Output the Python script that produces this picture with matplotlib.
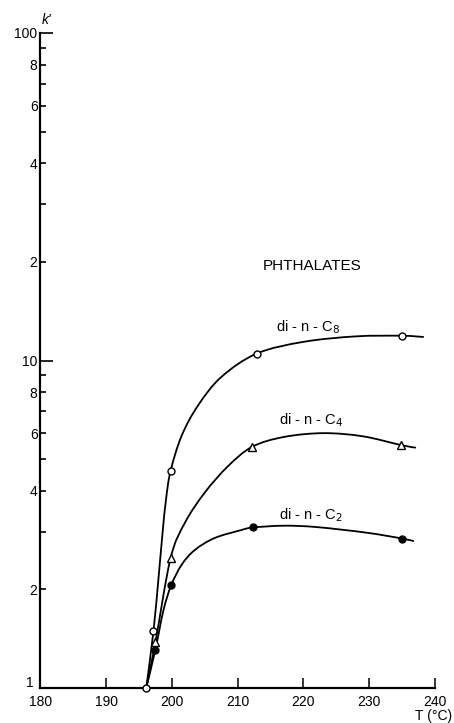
import numpy as np
import matplotlib.pyplot as plt
from matplotlib.path import Path
from matplotlib.patches import PathPatch
from matplotlib.ticker import FixedLocator, FuncFormatter

plt.rcParams['font.family'] = ['Liberation Sans', 'DejaVu Sans']

# Measured points: column temperature (°C) vs capacity factor k'
c8_T = [196.1, 197.2, 199.8, 212.9, 235.0]
c8_k = [1.0, 1.49, 4.6, 10.5, 11.9]
c4_T = [197.5, 199.8, 212.2, 234.8]
c4_k = [1.38, 2.49, 5.45, 5.52]
c2_T = [197.5, 199.9, 212.3, 235.0]
c2_k = [1.31, 2.06, 3.11, 2.86]

# Hand-drawn trend curves through each series
c8_curve_T = [196.1, 197.2, 198.0, 198.6, 199.1, 199.8, 201.5, 204.0,
              207.5, 212.9, 220.0, 228.0, 235.0, 238.2]
c8_curve_k = [1.0, 1.49, 2.2, 3.0, 3.75, 4.6, 5.9, 7.3,
              8.9, 10.5, 11.4, 11.85, 11.9, 11.8]
c4_curve_T = [196.1, 197.5, 199.8, 202.0, 205.0, 208.5, 212.2,
              217.0, 223.0, 229.0, 234.8, 237.0]
c4_curve_k = [1.0, 1.38, 2.49, 3.2, 3.95, 4.75, 5.45,
              5.84, 6.0, 5.87, 5.52, 5.42]
c2_curve_T = [196.1, 197.5, 198.7, 199.9, 201.5, 203.5, 206.5, 210.4, 212.3,
              217.0, 222.0, 229.6, 235.0, 236.7]
c2_curve_k = [1.0, 1.31, 1.72, 2.06, 2.38, 2.64, 2.87, 3.03, 3.09,
              3.13, 3.10, 2.98, 2.86, 2.81]


def smooth_path(T, k):
    # cubic Bezier segments through the traced points (Catmull-Rom tangents),
    # built in (T, log k) so the strokes stay smooth on the log axis
    x = np.asarray(T, float)
    y = np.log10(k)
    n = len(x)
    verts = [(x[0], y[0])]
    codes = [Path.MOVETO]
    for i in range(n - 1):
        p0 = (x[max(i - 1, 0)], y[max(i - 1, 0)])
        p1 = (x[i], y[i])
        p2 = (x[i + 1], y[i + 1])
        p3 = (x[min(i + 2, n - 1)], y[min(i + 2, n - 1)])
        c1 = (p1[0] + (p2[0] - p0[0]) / 6, p1[1] + (p2[1] - p0[1]) / 6)
        c2 = (p2[0] - (p3[0] - p1[0]) / 6, p2[1] - (p3[1] - p1[1]) / 6)
        verts += [c1, c2, p2]
        codes += [Path.CURVE4] * 3
    verts = [(vx, 10 ** vy) for vx, vy in verts]
    return Path(verts, codes)


fig = plt.figure(figsize=(4.54, 7.23), dpi=100)
ax = fig.add_axes([40.3 / 454, 1 - 688 / 723, (435 - 40.3) / 454, (688 - 33) / 723])

ax.set_yscale('log')
ax.set_xlim(180, 240)
ax.set_ylim(1, 100)

for T, k in [(c8_curve_T, c8_curve_k), (c4_curve_T, c4_curve_k), (c2_curve_T, c2_curve_k)]:
    ax.add_patch(PathPatch(smooth_path(T, k), fill=False, edgecolor='black',
                           lw=1.3, capstyle='round', zorder=2))

ax.plot(c8_T, c8_k, 'o', ms=5, mfc='white', mec='black', mew=1.0, clip_on=False, zorder=3)
ax.plot(c4_T, c4_k, '^', ms=6, mfc='white', mec='black', mew=1.0, clip_on=False, zorder=3)
ax.plot(c2_T, c2_k, 'o', ms=5, mfc='black', mec='black', mew=1.0, clip_on=False, zorder=3)

ax.spines['top'].set_visible(False)
ax.spines['right'].set_visible(False)
ax.spines['left'].set_linewidth(1.6)
ax.spines['bottom'].set_linewidth(1.6)

ax.set_xticks(np.arange(180, 241, 10))
ax.yaxis.set_major_locator(FixedLocator([1, 10, 100]))
# the "1" at the origin is placed by hand so it clears the 180 label
ax.yaxis.set_major_formatter(FuncFormatter(lambda v, _: '' if v == 1 else f'{v:g}'))
minors = [m * d for d in (1, 10) for m in range(2, 10)]
ax.yaxis.set_minor_locator(FixedLocator(minors))


def even_digit(v, _):
    lead = int(round(v / 10 ** np.floor(np.log10(v))))
    return str(lead) if lead % 2 == 0 else ''


ax.yaxis.set_minor_formatter(FuncFormatter(even_digit))

ax.tick_params(axis='y', which='major', direction='in', length=9, width=1.2,
               labelsize=10, pad=2)
ax.tick_params(axis='y', which='minor', direction='in', length=4.5, width=1.2,
               labelsize=10, pad=2)
ax.tick_params(axis='x', which='major', direction='in', length=7, width=1.1,
               labelsize=10, pad=5)

fig.text(34 / 454, 1 - 683 / 723, '1', fontsize=10, ha='right', va='center')
fig.text(42 / 454, 1 - 20 / 723, "k'", fontsize=10, style='italic', ha='left', va='center')
fig.text(452 / 454, 1 - 716 / 723, 'T (°C)', fontsize=10, ha='right', va='center')

ax.text(213.8, 19.4, 'PHTHALATES', fontsize=11, ha='left', va='center')
ax.text(215.9, 12.68, 'di - n - C$_8$', fontsize=10.5, ha='left', va='center')
ax.text(216.3, 6.58, 'di - n - C$_4$', fontsize=10.5, ha='left', va='center')
ax.text(216.3, 3.38, 'di - n - C$_2$', fontsize=10.5, ha='left', va='center')

fig.savefig('out.png', dpi=100)
